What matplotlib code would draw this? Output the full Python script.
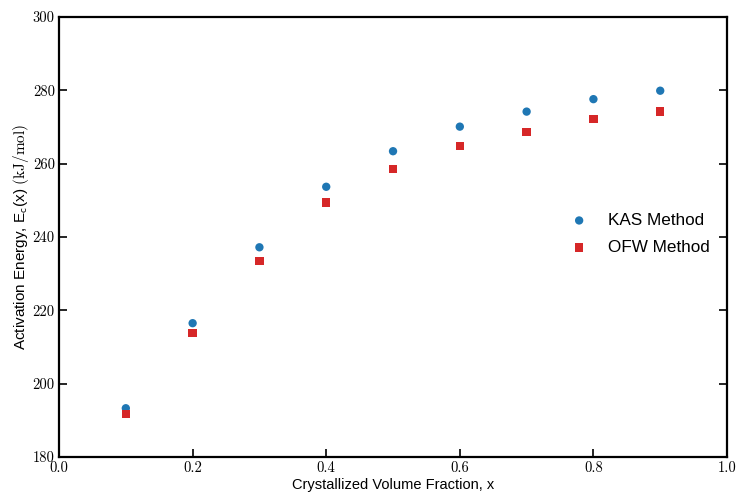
import matplotlib
matplotlib.use("Agg")
import matplotlib.pyplot as plt

# Crystallized volume fraction and activation energies (kJ/mol)
fraction = [0.1, 0.2, 0.3, 0.4, 0.5, 0.6, 0.7, 0.8, 0.9]
kas_energy = [193.3, 216.5, 237.2, 253.7, 263.4, 270.1, 274.2, 277.6, 279.9]
ofw_energy = [191.7, 213.9, 233.5, 249.4, 258.5, 264.9, 268.7, 272.1, 274.2]

x_ticks = [0.0, 0.2, 0.4, 0.6, 0.8, 1.0]
y_ticks = [180, 200, 220, 240, 260, 280, 300]

plt.rcParams["mathtext.fontset"] = "cm"
plt.rcParams["axes.formatter.use_mathtext"] = True

fig = plt.figure(figsize=(7.36, 4.96), dpi=100)
ax = fig.add_axes([0.0802, 0.0786, 0.9076, 0.8871])

ax.scatter(fraction, kas_energy, marker="o", s=36, color="#1f77b4",
           edgecolors="none", label="KAS Method", zorder=3)
ax.scatter(fraction, ofw_energy, marker="s", s=36, color="#d62728",
           edgecolors="none", label="OFW Method", zorder=3)

ax.set_xlim(0.0, 1.0)
ax.set_ylim(180, 300)
ax.set_xticks(x_ticks)
ax.set_yticks(y_ticks)
ax.set_xticklabels([f"{v:.1f}" for v in x_ticks], fontfamily="cmr10", fontsize=10.5)
ax.set_yticklabels([str(v) for v in y_ticks], fontfamily="cmr10", fontsize=10.5)

ax.tick_params(axis="both", direction="in", length=6, width=1.2,
               left=True, right=True, top=False, bottom=True, pad=3)
for spine in ax.spines.values():
    spine.set_linewidth(1.6)

sans = ["Liberation Sans", "DejaVu Sans"]
ax.set_xlabel("Crystallized Volume Fraction, x", fontfamily=sans, fontsize=10.5, labelpad=2)
ax.set_ylabel(r"Activation Energy, E$_\mathsf{c}$(x) $\mathrm{(kJ/mol)}$",
              fontfamily=sans, fontsize=11, labelpad=1)

ax.legend(loc="center right", bbox_to_anchor=(1.0, 0.507), frameon=False,
          prop={"family": sans, "size": 12.3}, handletextpad=0.7,
          borderaxespad=0.6, labelspacing=0.7)

fig.savefig("out.png", dpi=100)
